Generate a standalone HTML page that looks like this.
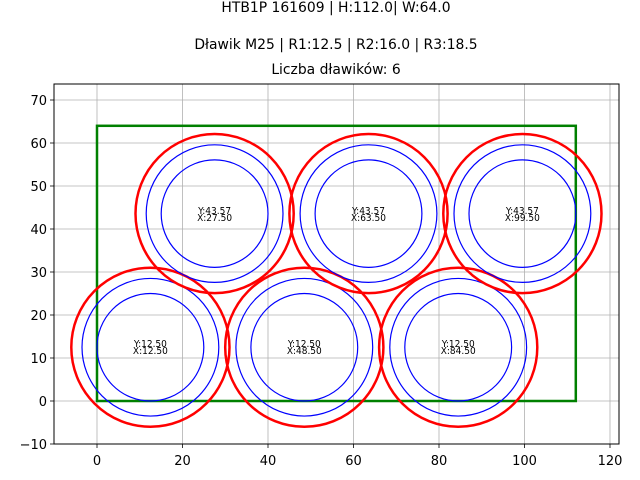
<!DOCTYPE html>
<html><head><meta charset="utf-8"><style>html,body{margin:0;padding:0;background:#fff}svg{display:block;font-family:"DejaVu Sans","Liberation Sans",sans-serif}</style></head>
<body>
<svg width="640" height="480" xmlns="http://www.w3.org/2000/svg">
<g font-size="13.9" text-anchor="middle" fill="#000">
<text x="336" y="12">HTB1P 161609 | H:112.0| W:64.0</text>
<text x="336" y="49">Dławik M25 | R1:12.5 | R2:16.0 | R3:18.5</text>
<text x="336" y="74">Liczba dławików: 6</text>
</g>
<g stroke="#b0b0b0" stroke-width="0.8">
<line x1="97" y1="84" x2="97" y2="444"/><line x1="182.5" y1="84" x2="182.5" y2="444"/><line x1="268" y1="84" x2="268" y2="444"/><line x1="353.5" y1="84" x2="353.5" y2="444"/><line x1="439" y1="84" x2="439" y2="444"/><line x1="524.5" y1="84" x2="524.5" y2="444"/><line x1="610" y1="84" x2="610" y2="444"/>
<line x1="54" y1="401" x2="619" y2="401"/><line x1="54" y1="358" x2="619" y2="358"/><line x1="54" y1="315" x2="619" y2="315"/><line x1="54" y1="272" x2="619" y2="272"/><line x1="54" y1="229" x2="619" y2="229"/><line x1="54" y1="186" x2="619" y2="186"/><line x1="54" y1="143" x2="619" y2="143"/><line x1="54" y1="100" x2="619" y2="100"/>
</g>
<rect x="97" y="125.8" width="478.8" height="275.2" fill="none" stroke="green" stroke-width="2.5"/>
<defs>
<g id="c"><ellipse rx="53.4" ry="53.75" fill="none" stroke="blue" stroke-width="1.2"/><ellipse rx="68.4" ry="68.8" fill="none" stroke="blue" stroke-width="1.2"/><ellipse rx="79.1" ry="79.55" fill="none" stroke="red" stroke-width="2.5"/></g>
</defs>
<use href="#c" x="150.4" y="347.25"/><use href="#c" x="304.3" y="347.25"/><use href="#c" x="458.2" y="347.25"/>
<use href="#c" x="214.6" y="213.6"/><use href="#c" x="368.5" y="213.6"/><use href="#c" x="522.4" y="213.6"/>
<g font-size="10" text-anchor="middle" fill="#000" font-family="Liberation Sans Narrow, DejaVu Sans Condensed, sans-serif">
<text x="150.4" y="347">Y:12.50</text><text x="150.4" y="354">X:12.50</text>
<text x="304.3" y="347">Y:12.50</text><text x="304.3" y="354">X:48.50</text>
<text x="458.2" y="347">Y:12.50</text><text x="458.2" y="354">X:84.50</text>
<text x="214.6" y="214">Y:43.57</text><text x="214.6" y="221">X:27.50</text>
<text x="368.5" y="214">Y:43.57</text><text x="368.5" y="221">X:63.50</text>
<text x="522.4" y="214">Y:43.57</text><text x="522.4" y="221">X:99.50</text>
</g>
<rect x="54" y="84" width="565" height="360" fill="none" stroke="#000" stroke-width="1"/>
<g stroke="#000" stroke-width="0.8">
<line x1="97" y1="444" x2="97" y2="448"/><line x1="182.5" y1="444" x2="182.5" y2="448"/><line x1="268" y1="444" x2="268" y2="448"/><line x1="353.5" y1="444" x2="353.5" y2="448"/><line x1="439" y1="444" x2="439" y2="448"/><line x1="524.5" y1="444" x2="524.5" y2="448"/><line x1="610" y1="444" x2="610" y2="448"/>
<line x1="50" y1="444" x2="54" y2="444"/><line x1="50" y1="401" x2="54" y2="401"/><line x1="50" y1="358" x2="54" y2="358"/><line x1="50" y1="315" x2="54" y2="315"/><line x1="50" y1="272" x2="54" y2="272"/><line x1="50" y1="229" x2="54" y2="229"/><line x1="50" y1="186" x2="54" y2="186"/><line x1="50" y1="143" x2="54" y2="143"/><line x1="50" y1="100" x2="54" y2="100"/>
</g>
<g font-size="13" text-anchor="middle" fill="#000">
<text x="97" y="465">0</text><text x="182.5" y="465">20</text><text x="268" y="465">40</text><text x="353.5" y="465">60</text><text x="439" y="465">80</text><text x="524.5" y="465">100</text><text x="610" y="465">120</text>
</g>
<g font-size="13" text-anchor="end" fill="#000">
<text x="47" y="449">−10</text><text x="47" y="406">0</text><text x="47" y="363">10</text><text x="47" y="320">20</text><text x="47" y="277">30</text><text x="47" y="234">40</text><text x="47" y="191">50</text><text x="47" y="148">60</text><text x="47" y="105">70</text>
</g>
</svg>
</body></html>
